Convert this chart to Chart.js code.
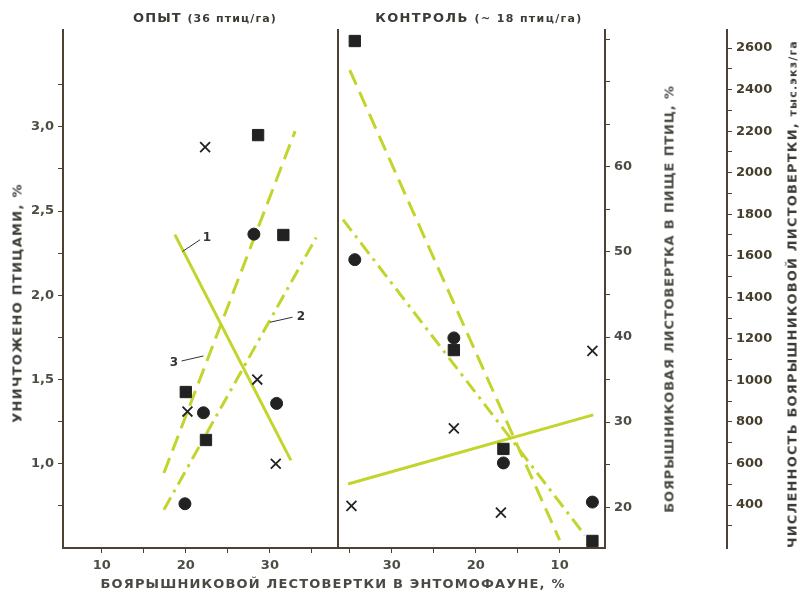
<!DOCTYPE html>
<html>
<head>
<meta charset="utf-8">
<script src="https://cdn.jsdelivr.net/npm/chart.js@4.4.1/dist/chart.umd.min.js"></script>
<style>
  body { margin: 0; background: #fff; }
  #wrap { position: relative; width: 801px; height: 593px; overflow: hidden; }
  canvas { position: absolute; left: 0; top: 0; }
  .lbl { position: absolute; white-space: nowrap; font-family: "DejaVu Sans", sans-serif; font-weight: bold; color: #3c3c36; line-height: 1; }
  .small { font-size: 11px; }
</style>
</head>
<body>
<div id="wrap">
  <canvas id="leftChart" width="801" height="593"></canvas>
  <canvas id="rightChart" width="801" height="593"></canvas>
  <div class="lbl" id="tLeft" style="font-size:13px">ОПЫТ <span class="small">(36 птиц/га)</span></div>
  <div class="lbl" id="tRight" style="font-size:13px">КОНТРОЛЬ <span class="small">(~ 18 птиц/га)</span></div>
  <div class="lbl" id="xTitle" style="font-size:13px;color:#4a4a44">БОЯРЫШНИКОВОЙ ЛЕСТОВЕРТКИ В ЭНТОМОФАУНЕ, %</div>
  <div class="lbl" id="yTitle" style="font-size:13px">УНИЧТОЖЕНО ПТИЦАМИ, %</div>
  <div class="lbl" id="fTitle" style="font-size:13px;color:#4a4a44">БОЯРЫШНИКОВАЯ ЛИСТОВЕРТКА В ПИЩЕ ПТИЦ, %</div>
  <div class="lbl" id="nTitle" style="font-size:13px">ЧИСЛЕННОСТЬ БОЯРЫШНИКОВОЙ ЛИСТОВЕРТКИ, <span class="small">тыс.экз/га</span></div>
</div>
<script>
// ---- опыт (left panel) ----
const expCrossX = [22.3, 20.2, 28.5, 30.7];
const expCrossY = [2.88, 1.31, 1.50, 1.00];       // уничтожено птицами, %
const expCircleX = [19.9, 22.1, 28.1, 30.8];
const expCircleY = [20.4, 31.1, 52.1, 32.2];      // в пище птиц, %
const expSquareX = [20.0, 22.4, 28.6, 31.6];
const expSquareY = [944, 713, 2181, 1700];        // численность, тыс.экз/га

const expLine1X = [18.7, 32.5], expLine1Y = [2.36, 1.02];
const expLine2X = [17.4, 35.5], expLine2Y = [19.7, 51.7];
const expLine3X = [17.4, 33.0], expLine3Y = [554, 2200];

// curve numbers with leader strokes
const tagNames = ['1', '2', '3'];
const tagX = [22.5, 33.7, 18.6];
const tagY = [2.34, 1.87, 1.60];
const leadX = [[19.6, 21.7], [30.0, 32.7], [19.5, 22.1]];
const leadY = [[2.26, 2.33], [1.84, 1.87], [1.61, 1.64]];

// ---- контроль (right panel) ----
const ctlCrossX = [6.1, 22.6, 34.8, 17.0];
const ctlCrossY = [1.67, 1.21, 0.75, 0.71];
const ctlCircleX = [34.4, 22.6, 16.7, 6.1];
const ctlCircleY = [49.1, 39.9, 25.2, 20.6];
const ctlSquareX = [34.4, 22.6, 16.7, 6.1];
const ctlSquareY = [2634, 1146, 670, 227];

const ctlLine1X = [35.2, 6.0], ctlLine1Y = [0.88, 1.29];
const ctlLine2X = [35.8, 7.0], ctlLine2Y = [53.8, 16.7];
const ctlLine3X = [35.0, 10.0], ctlLine3Y = [2494, 231];

// ---- ticks ----
const xTicksLeft = [10, 15, 20, 25, 30, 35];
const xTicksRight = [35, 30, 25, 20, 15, 10];
const xLabels = [10, 20, 30];
const yLTicks = [0.75, 1.0, 1.25, 1.5, 1.75, 2.0, 2.25, 2.5, 2.75, 3.0, 3.25];
const yLLabels = [1.0, 1.5, 2.0, 2.5, 3.0];
const yFTicks = [20, 25, 30, 35, 40, 45, 50, 55, 60, 65, 70, 75];
const yFLabels = [20, 30, 40, 50, 60];
const yNTicks = [300, 400, 500, 600, 700, 800, 900, 1000, 1100, 1200, 1300, 1400, 1500,
  1600, 1700, 1800, 1900, 2000, 2100, 2200, 2300, 2400, 2500, 2600];
const yNLabels = [400, 600, 800, 1000, 1200, 1400, 1600, 1800, 2000, 2200, 2400, 2600];

const LINE = '#c3d42c';
const MARK = '#222';
const AXIS = '#4a4332';
const TXT = '#4e4d45';
const tickFont = { family: '"DejaVu Sans", sans-serif', size: 13, weight: 'bold' };

const pts = (xs, ys) => xs.map((x, i) => ({ x, y: ys[i] }));

function markers(cx, cy, ox, oy, sx, sy, yIds) {
  return [
    { data: pts(cx, cy), yAxisID: yIds[0], pointStyle: 'crossRot', pointRadius: 7, borderColor: MARK, pointBorderWidth: 1.8, showLine: false },
    { data: pts(ox, oy), yAxisID: yIds[1], pointStyle: 'circle', pointRadius: 6, backgroundColor: MARK, borderColor: MARK, showLine: false },
    { data: pts(sx, sy), yAxisID: yIds[2], pointStyle: 'rect', pointRadius: 8, backgroundColor: MARK, borderColor: MARK, showLine: false }
  ];
}

function trend(xs, ys, yId, dash) {
  return { data: pts(xs, ys), yAxisID: yId, showLine: true, borderColor: LINE, borderWidth: 3,
    borderDash: dash, borderCapStyle: 'butt', pointRadius: 0 };
}

function fixTicks(list) { return s => { s.ticks = list.map(v => ({ value: v })); }; }

function axis(extra) {
  return Object.assign({
    type: 'linear',
    grid: { drawOnChartArea: false, tickLength: 5, color: AXIS },
    border: { color: AXIS, width: 2 },
    ticks: { font: tickFont, color: TXT, autoSkip: false, maxRotation: 0, padding: 4 }
  }, extra);
}

function labelCb(list, fmt) { return v => list.includes(v) ? fmt(v) : ''; }

const tagPlugin = {
  id: 'tags',
  afterDatasetsDraw(chart) {
    const { ctx, scales } = chart;
    ctx.save();
    ctx.font = 'bold 12px "DejaVu Sans", sans-serif';
    ctx.fillStyle = '#333';
    ctx.textAlign = 'center';
    ctx.textBaseline = 'middle';
    tagNames.forEach((t, i) => ctx.fillText(t, scales.x.getPixelForValue(tagX[i]), scales.yL.getPixelForValue(tagY[i])));
    ctx.restore();
  }
};

const leaders = leadX.map((xs, i) => ({ data: pts(xs, leadY[i]), yAxisID: 'yL', showLine: true,
  borderColor: '#333', borderWidth: 1, pointRadius: 0 }));

const common = {
  animation: false, responsive: false, events: [],
  plugins: { legend: { display: false }, tooltip: { enabled: false } }
};

new Chart(document.getElementById('leftChart'), {
  type: 'scatter',
  data: { datasets: [
    ...markers(expCrossX, expCrossY, expCircleX, expCircleY, expSquareX, expSquareY, ['yL', 'yF', 'yN']),
    ...leaders,
    trend(expLine1X, expLine1Y, 'yL', []),
    trend(expLine2X, expLine2Y, 'yF', [14, 6, 3, 6]),
    trend(expLine3X, expLine3Y, 'yN', [16, 8])
  ] },
  options: Object.assign({}, common, {
    layout: { padding: { left: 0, top: 30, right: 463, bottom: 0 } },
    scales: {
      x: axis({ position: 'bottom', min: 5.4, max: 38.1,
        afterBuildTicks: fixTicks(xTicksLeft), afterFit: s => { s.height = 45; },
        ticks: { font: tickFont, color: TXT, autoSkip: false, maxRotation: 0, padding: 5,
          callback: labelCb(xLabels, v => String(v)) } }),
      yL: axis({ position: 'left', min: 0.5, max: 3.575,
        afterBuildTicks: fixTicks(yLTicks), afterFit: s => { s.width = 63; },
        ticks: { font: tickFont, color: TXT, autoSkip: false, padding: 4,
          callback: labelCb(yLLabels, v => v.toFixed(1).replace('.', ',')) } }),
      yF: { type: 'linear', display: false, min: 15.2, max: 76.1 },
      yN: { type: 'linear', display: false, min: 193, max: 2687 }
    }
  }),
  plugins: [tagPlugin]
});

new Chart(document.getElementById('rightChart'), {
  type: 'scatter',
  data: { datasets: [
    ...markers(ctlCrossX, ctlCrossY, ctlCircleX, ctlCircleY, ctlSquareX, ctlSquareY, ['yL', 'yF', 'yN']),
    trend(ctlLine1X, ctlLine1Y, 'yL', []),
    trend(ctlLine2X, ctlLine2Y, 'yF', [14, 6, 3, 6]),
    trend(ctlLine3X, ctlLine3Y, 'yN', [16, 8])
  ] },
  options: Object.assign({}, common, {
    layout: { padding: { left: 338, top: 30, right: 0, bottom: 0 } },
    scales: {
      x: axis({ position: 'bottom', min: 4.6, max: 36.4, reverse: true,
        afterBuildTicks: fixTicks(xTicksRight), afterFit: s => { s.height = 45; },
        ticks: { font: tickFont, color: TXT, autoSkip: false, maxRotation: 0, padding: 5,
          callback: labelCb(xLabels, v => String(v)) } }),
      yL: { type: 'linear', position: 'left', min: 0.5, max: 3.575,
        grid: { display: false }, ticks: { display: false },
        border: { color: AXIS, width: 2 }, afterFit: s => { s.width = 0; } },
      yF: axis({ position: 'right', weight: 0, min: 15.2, max: 76.1,
        afterBuildTicks: fixTicks(yFTicks), afterFit: s => { s.width = 122; },
        ticks: { font: tickFont, color: TXT, autoSkip: false, padding: 4,
          callback: labelCb(yFLabels, v => String(v)) } }),
      yN: axis({ position: 'right', weight: 1, min: 193, max: 2687,
        afterBuildTicks: fixTicks(yNTicks), afterFit: s => { s.width = 74; },
        ticks: { font: tickFont, color: '#463f2e', autoSkip: false, padding: 4,
          callback: labelCb(yNLabels, v => String(v)) } })
    }
  })
});

// place the HTML titles: centre point and the length the text should span
function place(id, cx, cy, length, rotate) {
  const el = document.getElementById(id);
  el.style.letterSpacing = '0px';
  const w = el.offsetWidth;
  const n = el.textContent.length;
  el.style.letterSpacing = Math.max(0, (length - w) / n) + 'px';
  el.style.left = cx + 'px';
  el.style.top = cy + 'px';
  el.style.transform = 'translate(-50%, -50%)' + (rotate ? ' rotate(-90deg)' : '');
}
place('tLeft', 205, 17, 144, false);
place('tRight', 479, 17, 208, false);
place('xTitle', 333, 583, 465, false);
place('yTitle', 17, 303, 240, true);
place('fTitle', 669, 299, 428, true);
place('nTitle', 792, 294, 508, true);
</script>
</body>
</html>
